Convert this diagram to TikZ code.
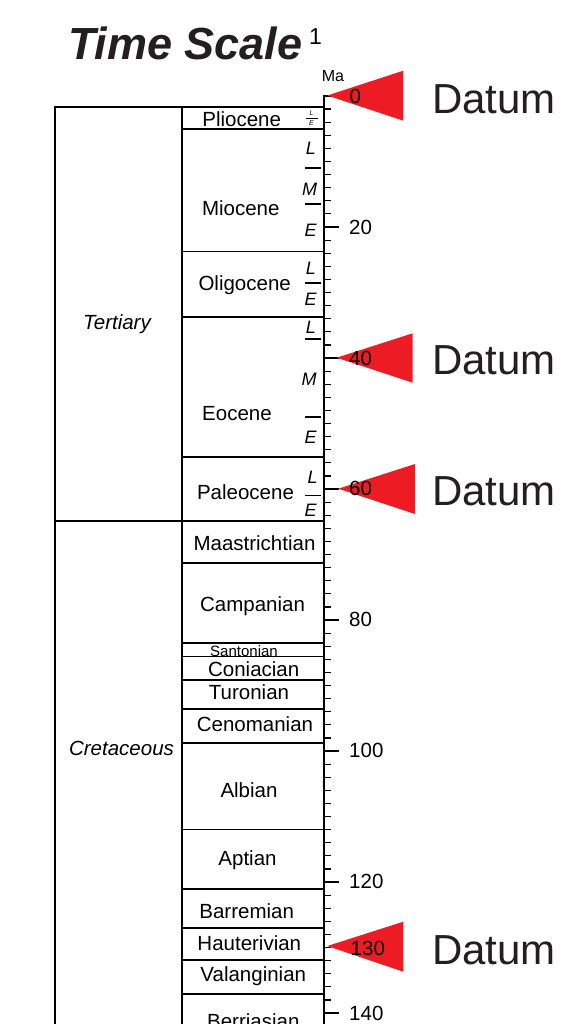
\documentclass[tikz,border=0pt]{standalone}
\usepackage{fontspec}
\setmainfont{Liberation Sans}
\definecolor{datumred}{HTML}{ED1C24}
\definecolor{ink}{HTML}{231F20}
\begin{document}
\begin{tikzpicture}[x=1pt,y=-1pt,
  lbl/.style={anchor=base,inner sep=0pt,font=\fontsize{20.5}{24}\selectfont},
  smalllbl/.style={anchor=base,inner sep=0pt,font=\fontsize{15}{18}\selectfont},
  era/.style={anchor=base,inner sep=0pt,font=\fontsize{20.5}{24}\selectfont\itshape},
  sub/.style={anchor=base,inner sep=0pt,font=\fontsize{18}{20}\selectfont\itshape},
  tinysub/.style={anchor=base,inner sep=0pt,font=\fontsize{7}{8}\selectfont\itshape},
  num/.style={anchor=base west,inner sep=0pt,font=\fontsize{20.5}{24}\selectfont},
  datumtxt/.style={anchor=base west,inner sep=0pt,text=ink,font=\fontsize{42}{48}\selectfont},
  heavy/.style={line width=2.6pt},
  axisline/.style={line width=2.3pt},
  thin/.style={line width=1.3pt},
  tickline/.style={line width=1.2pt},
  subline/.style={line width=1.2pt},
  marker/.style={fill=datumred,draw=none}]
\clip (0,0) rectangle (583,1024);
\fill[white] (0,0) rectangle (583,1024);

% title
\node[anchor=base west,inner sep=0pt,font=\fontsize{45}{50}\selectfont\bfseries\itshape,text=ink] (title) at (68,60) {Time Scale};
\node[anchor=base west,inner sep=0pt,font=\fontsize{23}{26}\selectfont] (fn) at (309,45) {1};
\node[anchor=base,inner sep=0pt,font=\fontsize{16}{18}\selectfont] (ma) at (333,81.5) {Ma};

% epoch / stage boundaries
\foreach \y in {129,251.5,317,457,521,563,643,656.5,680,709,743,829.5,889,928,960,994}
  \draw[thin] (182,\y) -- (324,\y);
\draw[thin] (55,521) -- (182,521);

% sub-epoch separators
\draw[line width=0.7pt] (306,118.5) -- (318,118.5);
\foreach \y in {168,204,283,339,417,495.5}
  \draw[subline] (305,\y) -- (321,\y);

% ticks every 2 Ma
\foreach \k in {0,...,71}{
  \pgfmathsetmacro{\yy}{96+6.55*2*\k}
  \draw[tickline] (324,\yy) -- (331,\yy);
}
\foreach \m in {0,20,40,60,80,100,120,140}{
  \pgfmathsetmacro{\yy}{96+6.55*\m}
  \draw[tickline] (324,\yy) -- (339,\yy);
}

% frame
\draw[heavy] (55,1030) -- (55,107) -- (324,107);
\draw[heavy] (182,107) -- (182,1030);
\draw[axisline] (324,95) -- (324,1030);

% era labels
\node[era] (tert) at (117,329) {Tertiary};
\node[era] (cret) at (121.5,755.5) {Cretaceous};

% epochs
\node[lbl] (plio) at (241.7,127) {Pliocene};
\node[lbl] (mio) at (240.8,216) {Miocene};
\node[lbl] (oligo) at (244.7,290) {Oligocene};
\node[lbl] (eoc) at (237,420) {Eocene};
\node[lbl] (paleo) at (245.5,499.3) {Paleocene};

% stages
\node[lbl] (maas) at (254.5,550) {Maastrichtian};
\node[lbl] (camp) at (252.5,611.7) {Campanian};
\node[smalllbl] (sant) at (244,656) {Santonian};
\node[lbl] (coni) at (253.7,676) {Coniacian};
\node[lbl] (turo) at (249,699.3) {Turonian};
\node[lbl] (ceno) at (255,731) {Cenomanian};
\node[lbl] (albi) at (249,797) {Albian};
\node[lbl] (apti) at (247.5,865) {Aptian};
\node[lbl] (barr) at (246.7,918) {Barremian};
\node[lbl] (haut) at (249.3,950) {Hauterivian};
\node[lbl] (vala) at (253.3,981) {Valanginian};
\node[lbl] (berr) at (253.3,1028) {Berriasian};

% sub-epoch letters
\node[tinysub] (plioL) at (311.5,116) {L};
\node[tinysub] (plioE) at (311.5,125.7) {E};
\node[sub] (mioL) at (311,154.3) {L};
\node[sub] (mioM) at (309.5,195.3) {M};
\node[sub] (mioE) at (310.5,236.5) {E};
\node[sub] (oliL) at (311,274) {L};
\node[sub] (oliE) at (310.5,305.7) {E};
\node[sub] (eocL) at (311,333) {L};
\node[sub] (eocM) at (309,385.7) {M};
\node[sub] (eocE) at (310.5,443) {E};
\node[sub] (palL) at (312.5,483) {L};
\node[sub] (palE) at (310.5,516) {E};

% axis numbers
\node[num] (n20) at (349,234) {20};
\node[num] (n80) at (349,626) {80};
\node[num] (n100) at (349,757) {100};
\node[num] (n120) at (349,888) {120};
\node[num] (n140) at (349,1020) {140};

% datum markers
\fill[marker] (327.3,95.5) -- (403.3,70.7) -- (403.3,120.7) -- cycle;
\fill[marker] (336.7,357.7) -- (412.7,333.3) -- (412.7,382.7) -- cycle;
\fill[marker] (338.3,488.7) -- (415,464) -- (415,514) -- cycle;
\fill[marker] (327.3,946) -- (403.3,921.7) -- (403.3,971.7) -- cycle;

\node[num] (n0) at (349.3,103.3) {0};
\node[num] (n40) at (349,365) {40};
\node[num] (n60) at (349,495.7) {60};
\node[num] (n130) at (350.5,955) {130};

\node[datumtxt] (d0) at (432,114) {Datum};
\node[datumtxt] (d40) at (432,374) {Datum};
\node[datumtxt] (d60) at (432,505.7) {Datum};
\node[datumtxt] (d130) at (432,964) {Datum};
\end{tikzpicture}
\end{document}
